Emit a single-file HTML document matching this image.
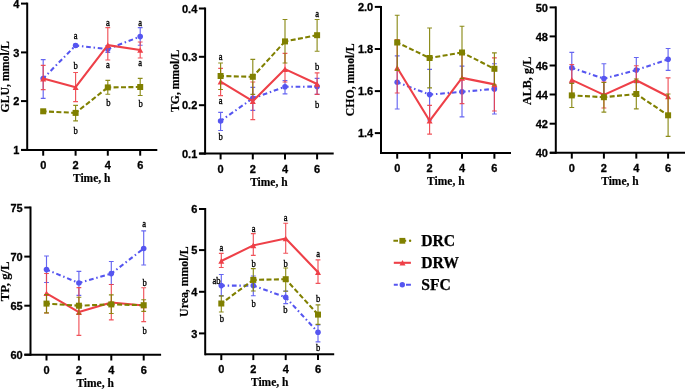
<!DOCTYPE html>
<html><head><meta charset="utf-8"><style>
html,body{margin:0;padding:0;background:#fff;}
body{width:685px;height:389px;overflow:hidden;}
svg{display:block;will-change:transform;}
.tk{font-family:"Liberation Sans",sans-serif;font-weight:bold;font-size:11px;stroke:#000;stroke-width:0.3px;}
.tt{font-family:"Liberation Serif",serif;font-weight:bold;font-size:11.5px;stroke:#000;stroke-width:0.2px;}
.yl{font-family:"Liberation Serif",serif;font-weight:bold;stroke:#000;stroke-width:0.2px;}
.lg{font-family:"Liberation Serif",serif;font-weight:bold;font-size:15.7px;stroke:#000;stroke-width:0.25px;}
</style></head><body>
<svg width="685" height="389" viewBox="0 0 685 389">
<rect width="685" height="389" fill="#fff"/>
<g id="pGLU"><path d="M43.2 59.6V98.3M40.8 59.6H45.6M40.8 98.3H45.6" stroke="#5555F0" stroke-width="1.15" fill="none" opacity="0.9"/>
<path d="M75.6 44.2V46.8M73.2 44.2H78M73.2 46.8H78" stroke="#5555F0" stroke-width="1.15" fill="none" opacity="0.9"/>
<path d="M107.8 45.5V52.3M105.4 45.5H110.2M105.4 52.3H110.2" stroke="#5555F0" stroke-width="1.15" fill="none" opacity="0.9"/>
<path d="M140.2 27.6V45.2M137.8 27.6H142.6M137.8 45.2H142.6" stroke="#5555F0" stroke-width="1.15" fill="none" opacity="0.9"/>
<path d="M43.2 78.5L75.6 45.5" stroke="#5555F0" stroke-width="2.1" fill="none" stroke-dasharray="4.7 2.75 1.5 2.75" stroke-dashoffset="1.1"/>
<path d="M75.6 45.5L107.8 49.1" stroke="#5555F0" stroke-width="2.1" fill="none" stroke-dasharray="4.7 2.75 1.5 2.75" stroke-dashoffset="1.1"/>
<path d="M107.8 49.1L140.2 36.6" stroke="#5555F0" stroke-width="2.1" fill="none" stroke-dasharray="4.7 2.75 1.5 2.75" stroke-dashoffset="1.1"/>
<circle cx="43.2" cy="78.5" r="2.8" fill="#5555F0"/>
<circle cx="75.6" cy="45.5" r="2.8" fill="#5555F0"/>
<circle cx="107.8" cy="49.1" r="2.8" fill="#5555F0"/>
<circle cx="140.2" cy="36.6" r="2.8" fill="#5555F0"/>
<path d="M43.2 65.3V89.6M40.8 65.3H45.6M40.8 89.6H45.6" stroke="#EE4048" stroke-width="1.15" fill="none" opacity="0.9"/>
<path d="M75.6 72.5V101.6M73.2 72.5H78M73.2 101.6H78" stroke="#EE4048" stroke-width="1.15" fill="none" opacity="0.9"/>
<path d="M107.8 27.6V60M105.4 27.6H110.2M105.4 60H110.2" stroke="#EE4048" stroke-width="1.15" fill="none" opacity="0.9"/>
<path d="M140.2 42V58M137.8 42H142.6M137.8 58H142.6" stroke="#EE4048" stroke-width="1.15" fill="none" opacity="0.9"/>
<path d="M43.2 78.6 L75.6 87.2 L107.8 45.1 L140.2 50" stroke="#EE4048" stroke-width="2.1" fill="none" stroke-linejoin="round"/>
<polygon points="43.2,75.8 46.2,81.4 40.2,81.4" fill="#EE4048"/>
<polygon points="75.6,84.4 78.6,90 72.6,90" fill="#EE4048"/>
<polygon points="107.8,42.3 110.8,47.9 104.8,47.9" fill="#EE4048"/>
<polygon points="140.2,47.2 143.2,52.8 137.2,52.8" fill="#EE4048"/>
<path d="M43.2 110V112.6M40.8 110H45.6M40.8 112.6H45.6" stroke="#808000" stroke-width="1.15" fill="none" opacity="0.9"/>
<path d="M75.6 105.3V120.9M73.2 105.3H78M73.2 120.9H78" stroke="#808000" stroke-width="1.15" fill="none" opacity="0.9"/>
<path d="M107.8 80.3V94.2M105.4 80.3H110.2M105.4 94.2H110.2" stroke="#808000" stroke-width="1.15" fill="none" opacity="0.9"/>
<path d="M140.2 78.4V95.5M137.8 78.4H142.6M137.8 95.5H142.6" stroke="#808000" stroke-width="1.15" fill="none" opacity="0.9"/>
<path d="M43.2 111.3L75.6 112.9" stroke="#808000" stroke-width="2.1" fill="none" stroke-dasharray="5 2.4" stroke-dashoffset="1.6"/>
<path d="M75.6 112.9L107.8 87.4" stroke="#808000" stroke-width="2.1" fill="none" stroke-dasharray="5 2.4" stroke-dashoffset="1.6"/>
<path d="M107.8 87.4L140.2 87" stroke="#808000" stroke-width="2.1" fill="none" stroke-dasharray="5 2.4" stroke-dashoffset="1.6"/>
<rect x="40.2" y="108.3" width="6" height="6" fill="#808000"/>
<rect x="72.6" y="109.9" width="6" height="6" fill="#808000"/>
<rect x="104.8" y="84.4" width="6" height="6" fill="#808000"/>
<rect x="137.2" y="84" width="6" height="6" fill="#808000"/>
<path d="M27.2 2.6V150.9" stroke="#000" stroke-width="2" fill="none"/>
<path d="M21.4 149.9H157.3" stroke="#000" stroke-width="2" fill="none"/>
<path d="M21 3.6H27.2" stroke="#000" stroke-width="2" fill="none"/>
<text x="19.4" y="7.74" text-anchor="end" class="tk">4</text>
<path d="M21 52.4H27.2" stroke="#000" stroke-width="2" fill="none"/>
<text x="19.4" y="56.54" text-anchor="end" class="tk">3</text>
<path d="M21 101.1H27.2" stroke="#000" stroke-width="2" fill="none"/>
<text x="19.4" y="105.24" text-anchor="end" class="tk">2</text>
<path d="M21 149.9H27.2" stroke="#000" stroke-width="2" fill="none"/>
<text x="19.4" y="154.04" text-anchor="end" class="tk">1</text>
<path d="M43.2 149.9V155.7" stroke="#000" stroke-width="2" fill="none"/>
<text x="43.2" y="168.8" text-anchor="middle" class="tk">0</text>
<path d="M75.6 149.9V155.7" stroke="#000" stroke-width="2" fill="none"/>
<text x="75.6" y="168.8" text-anchor="middle" class="tk">2</text>
<path d="M107.8 149.9V155.7" stroke="#000" stroke-width="2" fill="none"/>
<text x="107.8" y="168.8" text-anchor="middle" class="tk">4</text>
<path d="M140.2 149.9V155.7" stroke="#000" stroke-width="2" fill="none"/>
<text x="140.2" y="168.8" text-anchor="middle" class="tk">6</text>
<text transform="translate(91.7,181.8) scale(1,1.08)" text-anchor="middle" class="tt">Time, h</text>
<text transform="translate(8.8,76.8) rotate(-90)" text-anchor="middle" class="yl" font-size="11.75">GLU, mmol/L</text>
<text transform="translate(75.6,38.8) scale(0.95,1.18)" text-anchor="middle" font-family="'Liberation Serif', serif" font-size="9" stroke="#000" stroke-width="0.32">a</text>
<text transform="translate(75.6,69.3) scale(0.95,1.18)" text-anchor="middle" font-family="'Liberation Serif', serif" font-size="9" stroke="#000" stroke-width="0.32">b</text>
<text transform="translate(75.6,133.9) scale(0.95,1.18)" text-anchor="middle" font-family="'Liberation Serif', serif" font-size="9" stroke="#000" stroke-width="0.32">b</text>
<text transform="translate(107.8,25.6) scale(0.95,1.18)" text-anchor="middle" font-family="'Liberation Serif', serif" font-size="9" stroke="#000" stroke-width="0.32">a</text>
<text transform="translate(107.8,68.2) scale(0.95,1.18)" text-anchor="middle" font-family="'Liberation Serif', serif" font-size="9" stroke="#000" stroke-width="0.32">a</text>
<text transform="translate(108.4,105.6) scale(0.95,1.18)" text-anchor="middle" font-family="'Liberation Serif', serif" font-size="9" stroke="#000" stroke-width="0.32">b</text>
<text transform="translate(140.2,26.3) scale(0.95,1.18)" text-anchor="middle" font-family="'Liberation Serif', serif" font-size="9" stroke="#000" stroke-width="0.32">a</text>
<text transform="translate(140.2,66) scale(0.95,1.18)" text-anchor="middle" font-family="'Liberation Serif', serif" font-size="9" stroke="#000" stroke-width="0.32">a</text>
<text transform="translate(140.6,106.8) scale(0.95,1.18)" text-anchor="middle" font-family="'Liberation Serif', serif" font-size="9" stroke="#000" stroke-width="0.32">b</text></g>
<g id="pTG"><path d="M220.6 112.3V130.5M218.2 112.3H223M218.2 130.5H223" stroke="#5555F0" stroke-width="1.15" fill="none" opacity="0.9"/>
<path d="M252.8 87.4V110.4M250.4 87.4H255.2M250.4 110.4H255.2" stroke="#5555F0" stroke-width="1.15" fill="none" opacity="0.9"/>
<path d="M285 80.5V93.8M282.6 80.5H287.4M282.6 93.8H287.4" stroke="#5555F0" stroke-width="1.15" fill="none" opacity="0.9"/>
<path d="M317.1 78.4V94.4M314.7 78.4H319.5M314.7 94.4H319.5" stroke="#5555F0" stroke-width="1.15" fill="none" opacity="0.9"/>
<path d="M220.6 121L252.8 98.3" stroke="#5555F0" stroke-width="2.1" fill="none" stroke-dasharray="4.7 2.75 1.5 2.75" stroke-dashoffset="1.1"/>
<path d="M252.8 98.3L285 86.8" stroke="#5555F0" stroke-width="2.1" fill="none" stroke-dasharray="4.7 2.75 1.5 2.75" stroke-dashoffset="1.1"/>
<path d="M285 86.8L317.1 86.6" stroke="#5555F0" stroke-width="2.1" fill="none" stroke-dasharray="4.7 2.75 1.5 2.75" stroke-dashoffset="1.1"/>
<circle cx="220.6" cy="121" r="2.8" fill="#5555F0"/>
<circle cx="252.8" cy="98.3" r="2.8" fill="#5555F0"/>
<circle cx="285" cy="86.8" r="2.8" fill="#5555F0"/>
<circle cx="317.1" cy="86.6" r="2.8" fill="#5555F0"/>
<path d="M220.6 68.3V95.6M218.2 68.3H223M218.2 95.6H223" stroke="#EE4048" stroke-width="1.15" fill="none" opacity="0.9"/>
<path d="M252.8 82V119.6M250.4 82H255.2M250.4 119.6H255.2" stroke="#EE4048" stroke-width="1.15" fill="none" opacity="0.9"/>
<path d="M285 53.4V82M282.6 53.4H287.4M282.6 82H287.4" stroke="#EE4048" stroke-width="1.15" fill="none" opacity="0.9"/>
<path d="M317.1 72.8V94.4M314.7 72.8H319.5M314.7 94.4H319.5" stroke="#EE4048" stroke-width="1.15" fill="none" opacity="0.9"/>
<path d="M220.6 81.7 L252.8 101.2 L285 69.1 L317.1 84" stroke="#EE4048" stroke-width="2.1" fill="none" stroke-linejoin="round"/>
<polygon points="220.6,78.9 223.6,84.5 217.6,84.5" fill="#EE4048"/>
<polygon points="252.8,98.4 255.8,104 249.8,104" fill="#EE4048"/>
<polygon points="285,66.3 288,71.9 282,71.9" fill="#EE4048"/>
<polygon points="317.1,81.2 320.1,86.8 314.1,86.8" fill="#EE4048"/>
<path d="M220.6 63V89.5M218.2 63H223M218.2 89.5H223" stroke="#808000" stroke-width="1.15" fill="none" opacity="0.9"/>
<path d="M252.8 59.4V94.4M250.4 59.4H255.2M250.4 94.4H255.2" stroke="#808000" stroke-width="1.15" fill="none" opacity="0.9"/>
<path d="M285 19.5V63M282.6 19.5H287.4M282.6 63H287.4" stroke="#808000" stroke-width="1.15" fill="none" opacity="0.9"/>
<path d="M317.1 19.5V51.2M314.7 19.5H319.5M314.7 51.2H319.5" stroke="#808000" stroke-width="1.15" fill="none" opacity="0.9"/>
<path d="M220.6 76L252.8 76.8" stroke="#808000" stroke-width="2.1" fill="none" stroke-dasharray="5 2.4" stroke-dashoffset="1.6"/>
<path d="M252.8 76.8L285 41.4" stroke="#808000" stroke-width="2.1" fill="none" stroke-dasharray="5 2.4" stroke-dashoffset="1.6"/>
<path d="M285 41.4L317.1 35.2" stroke="#808000" stroke-width="2.1" fill="none" stroke-dasharray="5 2.4" stroke-dashoffset="1.6"/>
<rect x="217.6" y="73" width="6" height="6" fill="#808000"/>
<rect x="249.8" y="73.8" width="6" height="6" fill="#808000"/>
<rect x="282" y="38.4" width="6" height="6" fill="#808000"/>
<rect x="314.1" y="32.2" width="6" height="6" fill="#808000"/>
<path d="M205.1 7.5V154.6" stroke="#000" stroke-width="2" fill="none"/>
<path d="M199.3 153.6H333.7" stroke="#000" stroke-width="2" fill="none"/>
<path d="M198.9 8.5H205.1" stroke="#000" stroke-width="2" fill="none"/>
<text x="197.3" y="12.64" text-anchor="end" class="tk">0.4</text>
<path d="M198.9 56.8H205.1" stroke="#000" stroke-width="2" fill="none"/>
<text x="197.3" y="60.94" text-anchor="end" class="tk">0.3</text>
<path d="M198.9 105.2H205.1" stroke="#000" stroke-width="2" fill="none"/>
<text x="197.3" y="109.34" text-anchor="end" class="tk">0.2</text>
<path d="M198.9 153.6H205.1" stroke="#000" stroke-width="2" fill="none"/>
<text x="197.3" y="157.74" text-anchor="end" class="tk">0.1</text>
<path d="M220.6 153.6V159.4" stroke="#000" stroke-width="2" fill="none"/>
<text x="220.6" y="172.5" text-anchor="middle" class="tk">0</text>
<path d="M252.8 153.6V159.4" stroke="#000" stroke-width="2" fill="none"/>
<text x="252.8" y="172.5" text-anchor="middle" class="tk">2</text>
<path d="M285 153.6V159.4" stroke="#000" stroke-width="2" fill="none"/>
<text x="285" y="172.5" text-anchor="middle" class="tk">4</text>
<path d="M317.1 153.6V159.4" stroke="#000" stroke-width="2" fill="none"/>
<text x="317.1" y="172.5" text-anchor="middle" class="tk">6</text>
<text transform="translate(268.85,185.5) scale(1,1.08)" text-anchor="middle" class="tt">Time, h</text>
<text transform="translate(179,80.75) rotate(-90)" text-anchor="middle" class="yl" font-size="11.7">TG, mmol/L</text>
<text transform="translate(220.6,59.7) scale(0.95,1.18)" text-anchor="middle" font-family="'Liberation Serif', serif" font-size="9" stroke="#000" stroke-width="0.32">a</text>
<text transform="translate(220.6,103.6) scale(0.95,1.18)" text-anchor="middle" font-family="'Liberation Serif', serif" font-size="9" stroke="#000" stroke-width="0.32">a</text>
<text transform="translate(220.6,139.9) scale(0.95,1.18)" text-anchor="middle" font-family="'Liberation Serif', serif" font-size="9" stroke="#000" stroke-width="0.32">b</text>
<text transform="translate(317.1,16.6) scale(0.95,1.18)" text-anchor="middle" font-family="'Liberation Serif', serif" font-size="9" stroke="#000" stroke-width="0.32">a</text>
<text transform="translate(317.1,70) scale(0.95,1.18)" text-anchor="middle" font-family="'Liberation Serif', serif" font-size="9" stroke="#000" stroke-width="0.32">b</text>
<text transform="translate(317.1,107.6) scale(0.95,1.18)" text-anchor="middle" font-family="'Liberation Serif', serif" font-size="9" stroke="#000" stroke-width="0.32">b</text></g>
<g id="pCHO"><path d="M397.2 55.9V109M394.8 55.9H399.6M394.8 109H399.6" stroke="#5555F0" stroke-width="1.15" fill="none" opacity="0.9"/>
<path d="M429.6 69.3V120M427.2 69.3H432M427.2 120H432" stroke="#5555F0" stroke-width="1.15" fill="none" opacity="0.9"/>
<path d="M462 66.1V116.9M459.6 66.1H464.4M459.6 116.9H464.4" stroke="#5555F0" stroke-width="1.15" fill="none" opacity="0.9"/>
<path d="M494.4 63.7V114M492 63.7H496.8M492 114H496.8" stroke="#5555F0" stroke-width="1.15" fill="none" opacity="0.9"/>
<path d="M397.2 82.2L429.6 94.6" stroke="#5555F0" stroke-width="2.1" fill="none" stroke-dasharray="4.7 2.75 1.5 2.75" stroke-dashoffset="1.1"/>
<path d="M429.6 94.6L462 91.8" stroke="#5555F0" stroke-width="2.1" fill="none" stroke-dasharray="4.7 2.75 1.5 2.75" stroke-dashoffset="1.1"/>
<path d="M462 91.8L494.4 88.9" stroke="#5555F0" stroke-width="2.1" fill="none" stroke-dasharray="4.7 2.75 1.5 2.75" stroke-dashoffset="1.1"/>
<circle cx="397.2" cy="82.2" r="2.8" fill="#5555F0"/>
<circle cx="429.6" cy="94.6" r="2.8" fill="#5555F0"/>
<circle cx="462" cy="91.8" r="2.8" fill="#5555F0"/>
<circle cx="494.4" cy="88.9" r="2.8" fill="#5555F0"/>
<path d="M397.2 39.5V93M394.8 39.5H399.6M394.8 93H399.6" stroke="#EE4048" stroke-width="1.15" fill="none" opacity="0.9"/>
<path d="M429.6 105.3V134.1M427.2 105.3H432M427.2 134.1H432" stroke="#EE4048" stroke-width="1.15" fill="none" opacity="0.9"/>
<path d="M462 52V103.6M459.6 52H464.4M459.6 103.6H464.4" stroke="#EE4048" stroke-width="1.15" fill="none" opacity="0.9"/>
<path d="M494.4 57.8V111M492 57.8H496.8M492 111H496.8" stroke="#EE4048" stroke-width="1.15" fill="none" opacity="0.9"/>
<path d="M397.2 67.8 L429.6 120.8 L462 77.9 L494.4 84.4" stroke="#EE4048" stroke-width="2.1" fill="none" stroke-linejoin="round"/>
<polygon points="397.2,65 400.2,70.6 394.2,70.6" fill="#EE4048"/>
<polygon points="429.6,118 432.6,123.6 426.6,123.6" fill="#EE4048"/>
<polygon points="462,75.1 465,80.7 459,80.7" fill="#EE4048"/>
<polygon points="494.4,81.6 497.4,87.2 491.4,87.2" fill="#EE4048"/>
<path d="M397.2 15.2V70.3M394.8 15.2H399.6M394.8 70.3H399.6" stroke="#808000" stroke-width="1.15" fill="none" opacity="0.9"/>
<path d="M429.6 28V87.8M427.2 28H432M427.2 87.8H432" stroke="#808000" stroke-width="1.15" fill="none" opacity="0.9"/>
<path d="M462 26.2V78.5M459.6 26.2H464.4M459.6 78.5H464.4" stroke="#808000" stroke-width="1.15" fill="none" opacity="0.9"/>
<path d="M494.4 52.8V85M492 52.8H496.8M492 85H496.8" stroke="#808000" stroke-width="1.15" fill="none" opacity="0.9"/>
<path d="M397.2 42.5L429.6 58" stroke="#808000" stroke-width="2.1" fill="none" stroke-dasharray="5 2.4" stroke-dashoffset="1.6"/>
<path d="M429.6 58L462 52.5" stroke="#808000" stroke-width="2.1" fill="none" stroke-dasharray="5 2.4" stroke-dashoffset="1.6"/>
<path d="M462 52.5L494.4 68.8" stroke="#808000" stroke-width="2.1" fill="none" stroke-dasharray="5 2.4" stroke-dashoffset="1.6"/>
<rect x="394.2" y="39.5" width="6" height="6" fill="#808000"/>
<rect x="426.6" y="55" width="6" height="6" fill="#808000"/>
<rect x="459" y="49.5" width="6" height="6" fill="#808000"/>
<rect x="491.4" y="65.8" width="6" height="6" fill="#808000"/>
<path d="M381 5.9V153.9" stroke="#000" stroke-width="2" fill="none"/>
<path d="M381 152.9H511" stroke="#000" stroke-width="2" fill="none"/>
<path d="M374.8 6.9H381" stroke="#000" stroke-width="2" fill="none"/>
<text x="373.2" y="11.04" text-anchor="end" class="tk">2.0</text>
<path d="M374.8 49H381" stroke="#000" stroke-width="2" fill="none"/>
<text x="373.2" y="53.14" text-anchor="end" class="tk">1.8</text>
<path d="M374.8 91.1H381" stroke="#000" stroke-width="2" fill="none"/>
<text x="373.2" y="95.24" text-anchor="end" class="tk">1.6</text>
<path d="M374.8 133.1H381" stroke="#000" stroke-width="2" fill="none"/>
<text x="373.2" y="137.24" text-anchor="end" class="tk">1.4</text>
<path d="M397.2 152.9V158.7" stroke="#000" stroke-width="2" fill="none"/>
<text x="397.2" y="171.8" text-anchor="middle" class="tk">0</text>
<path d="M429.6 152.9V158.7" stroke="#000" stroke-width="2" fill="none"/>
<text x="429.6" y="171.8" text-anchor="middle" class="tk">2</text>
<path d="M462 152.9V158.7" stroke="#000" stroke-width="2" fill="none"/>
<text x="462" y="171.8" text-anchor="middle" class="tk">4</text>
<path d="M494.4 152.9V158.7" stroke="#000" stroke-width="2" fill="none"/>
<text x="494.4" y="171.8" text-anchor="middle" class="tk">6</text>
<text transform="translate(445.8,184.8) scale(1,1.08)" text-anchor="middle" class="tt">Time, h</text>
<text transform="translate(354.2,79.85) rotate(-90)" text-anchor="middle" class="yl" font-size="11.8">CHO, mmol/L</text></g>
<g id="pALB"><path d="M571.8 52.4V83M569.4 52.4H574.2M569.4 83H574.2" stroke="#5555F0" stroke-width="1.15" fill="none" opacity="0.9"/>
<path d="M603.9 63.7V93.5M601.5 63.7H606.3M601.5 93.5H606.3" stroke="#5555F0" stroke-width="1.15" fill="none" opacity="0.9"/>
<path d="M636.3 57.5V82.7M633.9 57.5H638.7M633.9 82.7H638.7" stroke="#5555F0" stroke-width="1.15" fill="none" opacity="0.9"/>
<path d="M668.1 48.5V70.3M665.7 48.5H670.5M665.7 70.3H670.5" stroke="#5555F0" stroke-width="1.15" fill="none" opacity="0.9"/>
<path d="M571.8 67.8L603.9 78.6" stroke="#5555F0" stroke-width="2.1" fill="none" stroke-dasharray="4.7 2.75 1.5 2.75" stroke-dashoffset="1.1"/>
<path d="M603.9 78.6L636.3 70.1" stroke="#5555F0" stroke-width="2.1" fill="none" stroke-dasharray="4.7 2.75 1.5 2.75" stroke-dashoffset="1.1"/>
<path d="M636.3 70.1L668.1 59.3" stroke="#5555F0" stroke-width="2.1" fill="none" stroke-dasharray="4.7 2.75 1.5 2.75" stroke-dashoffset="1.1"/>
<circle cx="571.8" cy="67.8" r="2.8" fill="#5555F0"/>
<circle cx="603.9" cy="78.6" r="2.8" fill="#5555F0"/>
<circle cx="636.3" cy="70.1" r="2.8" fill="#5555F0"/>
<circle cx="668.1" cy="59.3" r="2.8" fill="#5555F0"/>
<path d="M571.8 64.5V95M569.4 64.5H574.2M569.4 95H574.2" stroke="#EE4048" stroke-width="1.15" fill="none" opacity="0.9"/>
<path d="M603.9 82V108M601.5 82H606.3M601.5 108H606.3" stroke="#EE4048" stroke-width="1.15" fill="none" opacity="0.9"/>
<path d="M636.3 65.7V95M633.9 65.7H638.7M633.9 95H638.7" stroke="#EE4048" stroke-width="1.15" fill="none" opacity="0.9"/>
<path d="M668.1 77.8V115M665.7 77.8H670.5M665.7 115H670.5" stroke="#EE4048" stroke-width="1.15" fill="none" opacity="0.9"/>
<path d="M571.8 79.9 L603.9 94.9 L636.3 80.3 L668.1 96.5" stroke="#EE4048" stroke-width="2.1" fill="none" stroke-linejoin="round"/>
<polygon points="571.8,77.1 574.8,82.7 568.8,82.7" fill="#EE4048"/>
<polygon points="603.9,92.1 606.9,97.7 600.9,97.7" fill="#EE4048"/>
<polygon points="636.3,77.5 639.3,83.1 633.3,83.1" fill="#EE4048"/>
<polygon points="668.1,93.7 671.1,99.3 665.1,99.3" fill="#EE4048"/>
<path d="M571.8 83.3V107.5M569.4 83.3H574.2M569.4 107.5H574.2" stroke="#808000" stroke-width="1.15" fill="none" opacity="0.9"/>
<path d="M603.9 82.5V112.1M601.5 82.5H606.3M601.5 112.1H606.3" stroke="#808000" stroke-width="1.15" fill="none" opacity="0.9"/>
<path d="M636.3 79V108.9M633.9 79H638.7M633.9 108.9H638.7" stroke="#808000" stroke-width="1.15" fill="none" opacity="0.9"/>
<path d="M668.1 94V136.4M665.7 94H670.5M665.7 136.4H670.5" stroke="#808000" stroke-width="1.15" fill="none" opacity="0.9"/>
<path d="M571.8 95.4L603.9 97.2" stroke="#808000" stroke-width="2.1" fill="none" stroke-dasharray="5 2.4" stroke-dashoffset="1.6"/>
<path d="M603.9 97.2L636.3 94" stroke="#808000" stroke-width="2.1" fill="none" stroke-dasharray="5 2.4" stroke-dashoffset="1.6"/>
<path d="M636.3 94L668.1 115.3" stroke="#808000" stroke-width="2.1" fill="none" stroke-dasharray="5 2.4" stroke-dashoffset="1.6"/>
<rect x="568.8" y="92.4" width="6" height="6" fill="#808000"/>
<rect x="600.9" y="94.2" width="6" height="6" fill="#808000"/>
<rect x="633.3" y="91" width="6" height="6" fill="#808000"/>
<rect x="665.1" y="112.3" width="6" height="6" fill="#808000"/>
<path d="M555.8 6.4V153.8" stroke="#000" stroke-width="2" fill="none"/>
<path d="M550 152.8H686" stroke="#000" stroke-width="2" fill="none"/>
<path d="M549.6 7.4H555.8" stroke="#000" stroke-width="2" fill="none"/>
<text x="548" y="11.54" text-anchor="end" class="tk">50</text>
<path d="M549.6 36.4H555.8" stroke="#000" stroke-width="2" fill="none"/>
<text x="548" y="40.54" text-anchor="end" class="tk">48</text>
<path d="M549.6 65.5H555.8" stroke="#000" stroke-width="2" fill="none"/>
<text x="548" y="69.64" text-anchor="end" class="tk">46</text>
<path d="M549.6 94.5H555.8" stroke="#000" stroke-width="2" fill="none"/>
<text x="548" y="98.64" text-anchor="end" class="tk">44</text>
<path d="M549.6 123.7H555.8" stroke="#000" stroke-width="2" fill="none"/>
<text x="548" y="127.84" text-anchor="end" class="tk">42</text>
<path d="M549.6 152.8H555.8" stroke="#000" stroke-width="2" fill="none"/>
<text x="548" y="156.94" text-anchor="end" class="tk">40</text>
<path d="M571.8 152.8V158.6" stroke="#000" stroke-width="2" fill="none"/>
<text x="571.8" y="171.7" text-anchor="middle" class="tk">0</text>
<path d="M603.9 152.8V158.6" stroke="#000" stroke-width="2" fill="none"/>
<text x="603.9" y="171.7" text-anchor="middle" class="tk">2</text>
<path d="M636.3 152.8V158.6" stroke="#000" stroke-width="2" fill="none"/>
<text x="636.3" y="171.7" text-anchor="middle" class="tk">4</text>
<path d="M668.1 152.8V158.6" stroke="#000" stroke-width="2" fill="none"/>
<text x="668.1" y="171.7" text-anchor="middle" class="tk">6</text>
<text transform="translate(619.95,184.7) scale(1,1.08)" text-anchor="middle" class="tt">Time, h</text>
<text transform="translate(531.2,80.85) rotate(-90)" text-anchor="middle" class="yl" font-size="12.1">ALB, g/L</text></g>
<g id="pTP"><path d="M46.5 256V282.5M44.1 256H48.9M44.1 282.5H48.9" stroke="#5555F0" stroke-width="1.15" fill="none" opacity="0.9"/>
<path d="M78.9 271.4V295.4M76.5 271.4H81.3M76.5 295.4H81.3" stroke="#5555F0" stroke-width="1.15" fill="none" opacity="0.9"/>
<path d="M111.3 261.5V284.5M108.9 261.5H113.7M108.9 284.5H113.7" stroke="#5555F0" stroke-width="1.15" fill="none" opacity="0.9"/>
<path d="M143.7 230.8V265M141.3 230.8H146.1M141.3 265H146.1" stroke="#5555F0" stroke-width="1.15" fill="none" opacity="0.9"/>
<path d="M46.5 269.6L78.9 283" stroke="#5555F0" stroke-width="2.1" fill="none" stroke-dasharray="4.7 2.75 1.5 2.75" stroke-dashoffset="1.1"/>
<path d="M78.9 283L111.3 273.6" stroke="#5555F0" stroke-width="2.1" fill="none" stroke-dasharray="4.7 2.75 1.5 2.75" stroke-dashoffset="1.1"/>
<path d="M111.3 273.6L143.7 248.5" stroke="#5555F0" stroke-width="2.1" fill="none" stroke-dasharray="4.7 2.75 1.5 2.75" stroke-dashoffset="1.1"/>
<circle cx="46.5" cy="269.6" r="2.8" fill="#5555F0"/>
<circle cx="78.9" cy="283" r="2.8" fill="#5555F0"/>
<circle cx="111.3" cy="273.6" r="2.8" fill="#5555F0"/>
<circle cx="143.7" cy="248.5" r="2.8" fill="#5555F0"/>
<path d="M46.5 273.5V313M44.1 273.5H48.9M44.1 313H48.9" stroke="#EE4048" stroke-width="1.15" fill="none" opacity="0.9"/>
<path d="M78.9 287.6V335.3M76.5 287.6H81.3M76.5 335.3H81.3" stroke="#EE4048" stroke-width="1.15" fill="none" opacity="0.9"/>
<path d="M111.3 284.5V319.8M108.9 284.5H113.7M108.9 319.8H113.7" stroke="#EE4048" stroke-width="1.15" fill="none" opacity="0.9"/>
<path d="M143.7 287.7V321.6M141.3 287.7H146.1M141.3 321.6H146.1" stroke="#EE4048" stroke-width="1.15" fill="none" opacity="0.9"/>
<path d="M46.5 293.3 L78.9 312.1 L111.3 302.5 L143.7 305.5" stroke="#EE4048" stroke-width="2.1" fill="none" stroke-linejoin="round"/>
<polygon points="46.5,290.5 49.5,296.1 43.5,296.1" fill="#EE4048"/>
<polygon points="78.9,309.3 81.9,314.9 75.9,314.9" fill="#EE4048"/>
<polygon points="111.3,299.7 114.3,305.3 108.3,305.3" fill="#EE4048"/>
<polygon points="143.7,302.7 146.7,308.3 140.7,308.3" fill="#EE4048"/>
<path d="M46.5 294.5V312.9M44.1 294.5H48.9M44.1 312.9H48.9" stroke="#808000" stroke-width="1.15" fill="none" opacity="0.9"/>
<path d="M78.9 297.2V314M76.5 297.2H81.3M76.5 314H81.3" stroke="#808000" stroke-width="1.15" fill="none" opacity="0.9"/>
<path d="M111.3 294.9V313.5M108.9 294.9H113.7M108.9 313.5H113.7" stroke="#808000" stroke-width="1.15" fill="none" opacity="0.9"/>
<path d="M143.7 299.7V311.3M141.3 299.7H146.1M141.3 311.3H146.1" stroke="#808000" stroke-width="1.15" fill="none" opacity="0.9"/>
<path d="M46.5 303.6L78.9 305.7" stroke="#808000" stroke-width="2.1" fill="none" stroke-dasharray="5 2.4" stroke-dashoffset="1.6"/>
<path d="M78.9 305.7L111.3 304.4" stroke="#808000" stroke-width="2.1" fill="none" stroke-dasharray="5 2.4" stroke-dashoffset="1.6"/>
<path d="M111.3 304.4L143.7 305.2" stroke="#808000" stroke-width="2.1" fill="none" stroke-dasharray="5 2.4" stroke-dashoffset="1.6"/>
<rect x="43.5" y="300.6" width="6" height="6" fill="#808000"/>
<rect x="75.9" y="302.7" width="6" height="6" fill="#808000"/>
<rect x="108.3" y="301.4" width="6" height="6" fill="#808000"/>
<rect x="140.7" y="302.2" width="6" height="6" fill="#808000"/>
<path d="M30.5 206.5V355.7" stroke="#000" stroke-width="2" fill="none"/>
<path d="M24.4 354.7H161.1" stroke="#000" stroke-width="2" fill="none"/>
<path d="M24.3 207.5H30.5" stroke="#000" stroke-width="2" fill="none"/>
<text x="22.7" y="211.64" text-anchor="end" class="tk">75</text>
<path d="M24.3 256.6H30.5" stroke="#000" stroke-width="2" fill="none"/>
<text x="22.7" y="260.74" text-anchor="end" class="tk">70</text>
<path d="M24.3 305.7H30.5" stroke="#000" stroke-width="2" fill="none"/>
<text x="22.7" y="309.84" text-anchor="end" class="tk">65</text>
<path d="M24.3 354.7H30.5" stroke="#000" stroke-width="2" fill="none"/>
<text x="22.7" y="358.84" text-anchor="end" class="tk">60</text>
<path d="M46.5 354.7V360.5" stroke="#000" stroke-width="2" fill="none"/>
<text x="46.5" y="373.6" text-anchor="middle" class="tk">0</text>
<path d="M78.9 354.7V360.5" stroke="#000" stroke-width="2" fill="none"/>
<text x="78.9" y="373.6" text-anchor="middle" class="tk">2</text>
<path d="M111.3 354.7V360.5" stroke="#000" stroke-width="2" fill="none"/>
<text x="111.3" y="373.6" text-anchor="middle" class="tk">4</text>
<path d="M143.7 354.7V360.5" stroke="#000" stroke-width="2" fill="none"/>
<text x="143.7" y="373.6" text-anchor="middle" class="tk">6</text>
<text transform="translate(95.1,386.6) scale(1,1.08)" text-anchor="middle" class="tt">Time, h</text>
<text transform="translate(8.5,281.4) rotate(-90)" text-anchor="middle" class="yl" font-size="12.7">TP, g/L</text>
<text transform="translate(144.2,226.5) scale(0.95,1.18)" text-anchor="middle" font-family="'Liberation Serif', serif" font-size="9" stroke="#000" stroke-width="0.32">a</text>
<text transform="translate(144.6,285.6) scale(0.95,1.18)" text-anchor="middle" font-family="'Liberation Serif', serif" font-size="9" stroke="#000" stroke-width="0.32">b</text>
<text transform="translate(144.6,333.6) scale(0.95,1.18)" text-anchor="middle" font-family="'Liberation Serif', serif" font-size="9" stroke="#000" stroke-width="0.32">b</text></g>
<g id="pUrea"><path d="M221.3 274.5V295.9M218.9 274.5H223.7M218.9 295.9H223.7" stroke="#5555F0" stroke-width="1.15" fill="none" opacity="0.9"/>
<path d="M253.3 276V295.7M250.9 276H255.7M250.9 295.7H255.7" stroke="#5555F0" stroke-width="1.15" fill="none" opacity="0.9"/>
<path d="M285.7 291V303.6M283.3 291H288.1M283.3 303.6H288.1" stroke="#5555F0" stroke-width="1.15" fill="none" opacity="0.9"/>
<path d="M318 324.8V341.9M315.6 324.8H320.4M315.6 341.9H320.4" stroke="#5555F0" stroke-width="1.15" fill="none" opacity="0.9"/>
<path d="M221.3 285.6L253.3 285.6" stroke="#5555F0" stroke-width="2.1" fill="none" stroke-dasharray="4.7 2.75 1.5 2.75" stroke-dashoffset="1.1"/>
<path d="M253.3 285.6L285.7 297.3" stroke="#5555F0" stroke-width="2.1" fill="none" stroke-dasharray="4.7 2.75 1.5 2.75" stroke-dashoffset="1.1"/>
<path d="M285.7 297.3L318 332.3" stroke="#5555F0" stroke-width="2.1" fill="none" stroke-dasharray="4.7 2.75 1.5 2.75" stroke-dashoffset="1.1"/>
<circle cx="221.3" cy="285.6" r="2.8" fill="#5555F0"/>
<circle cx="253.3" cy="285.6" r="2.8" fill="#5555F0"/>
<circle cx="285.7" cy="297.3" r="2.8" fill="#5555F0"/>
<circle cx="318" cy="332.3" r="2.8" fill="#5555F0"/>
<path d="M221.3 253.4V267.5M218.9 253.4H223.7M218.9 267.5H223.7" stroke="#EE4048" stroke-width="1.15" fill="none" opacity="0.9"/>
<path d="M253.3 233.6V255.3M250.9 233.6H255.7M250.9 255.3H255.7" stroke="#EE4048" stroke-width="1.15" fill="none" opacity="0.9"/>
<path d="M285.7 223.2V253.2M283.3 223.2H288.1M283.3 253.2H288.1" stroke="#EE4048" stroke-width="1.15" fill="none" opacity="0.9"/>
<path d="M318 259.9V283.4M315.6 259.9H320.4M315.6 283.4H320.4" stroke="#EE4048" stroke-width="1.15" fill="none" opacity="0.9"/>
<path d="M221.3 261 L253.3 245.4 L285.7 238.5 L318 272.2" stroke="#EE4048" stroke-width="2.1" fill="none" stroke-linejoin="round"/>
<polygon points="221.3,258.2 224.3,263.8 218.3,263.8" fill="#EE4048"/>
<polygon points="253.3,242.6 256.3,248.2 250.3,248.2" fill="#EE4048"/>
<polygon points="285.7,235.7 288.7,241.3 282.7,241.3" fill="#EE4048"/>
<polygon points="318,269.4 321,275 315,275" fill="#EE4048"/>
<path d="M221.3 295.9V312M218.9 295.9H223.7M218.9 312H223.7" stroke="#808000" stroke-width="1.15" fill="none" opacity="0.9"/>
<path d="M253.3 268.6V291M250.9 268.6H255.7M250.9 291H255.7" stroke="#808000" stroke-width="1.15" fill="none" opacity="0.9"/>
<path d="M285.7 268V291.2M283.3 268H288.1M283.3 291.2H288.1" stroke="#808000" stroke-width="1.15" fill="none" opacity="0.9"/>
<path d="M318 304.9V324.4M315.6 304.9H320.4M315.6 324.4H320.4" stroke="#808000" stroke-width="1.15" fill="none" opacity="0.9"/>
<path d="M221.3 303.5L253.3 279.9" stroke="#808000" stroke-width="2.1" fill="none" stroke-dasharray="5 2.4" stroke-dashoffset="1.6"/>
<path d="M253.3 279.9L285.7 279.2" stroke="#808000" stroke-width="2.1" fill="none" stroke-dasharray="5 2.4" stroke-dashoffset="1.6"/>
<path d="M285.7 279.2L318 314.6" stroke="#808000" stroke-width="2.1" fill="none" stroke-dasharray="5 2.4" stroke-dashoffset="1.6"/>
<rect x="218.3" y="300.5" width="6" height="6" fill="#808000"/>
<rect x="250.3" y="276.9" width="6" height="6" fill="#808000"/>
<rect x="282.7" y="276.2" width="6" height="6" fill="#808000"/>
<rect x="315" y="311.6" width="6" height="6" fill="#808000"/>
<path d="M205.2 208V355.3" stroke="#000" stroke-width="2" fill="none"/>
<path d="M205.2 354.3H334.2" stroke="#000" stroke-width="2" fill="none"/>
<path d="M199 209H205.2" stroke="#000" stroke-width="2" fill="none"/>
<text x="197.4" y="213.14" text-anchor="end" class="tk">6</text>
<path d="M199 250.1H205.2" stroke="#000" stroke-width="2" fill="none"/>
<text x="197.4" y="254.24" text-anchor="end" class="tk">5</text>
<path d="M199 291.8H205.2" stroke="#000" stroke-width="2" fill="none"/>
<text x="197.4" y="295.94" text-anchor="end" class="tk">4</text>
<path d="M199 333.4H205.2" stroke="#000" stroke-width="2" fill="none"/>
<text x="197.4" y="337.54" text-anchor="end" class="tk">3</text>
<path d="M221.3 354.3V360.1" stroke="#000" stroke-width="2" fill="none"/>
<text x="221.3" y="373.2" text-anchor="middle" class="tk">0</text>
<path d="M253.3 354.3V360.1" stroke="#000" stroke-width="2" fill="none"/>
<text x="253.3" y="373.2" text-anchor="middle" class="tk">2</text>
<path d="M285.7 354.3V360.1" stroke="#000" stroke-width="2" fill="none"/>
<text x="285.7" y="373.2" text-anchor="middle" class="tk">4</text>
<path d="M318 354.3V360.1" stroke="#000" stroke-width="2" fill="none"/>
<text x="318" y="373.2" text-anchor="middle" class="tk">6</text>
<text transform="translate(269.65,386.2) scale(1,1.08)" text-anchor="middle" class="tt">Time, h</text>
<text transform="translate(188,281.6) rotate(-90)" text-anchor="middle" class="yl" font-size="11.8">Urea, mmol/L</text>
<text transform="translate(221.4,250.7) scale(0.95,1.18)" text-anchor="middle" font-family="'Liberation Serif', serif" font-size="9" stroke="#000" stroke-width="0.32">a</text>
<text transform="translate(220.6,284.1) scale(0.95,1.18)" text-anchor="end" font-family="'Liberation Serif', serif" font-size="9" stroke="#000" stroke-width="0.32">ab</text>
<text transform="translate(222,322.3) scale(0.95,1.18)" text-anchor="middle" font-family="'Liberation Serif', serif" font-size="9" stroke="#000" stroke-width="0.32">b</text>
<text transform="translate(253.6,232.3) scale(0.95,1.18)" text-anchor="middle" font-family="'Liberation Serif', serif" font-size="9" stroke="#000" stroke-width="0.32">a</text>
<text transform="translate(253.6,267.1) scale(0.95,1.18)" text-anchor="middle" font-family="'Liberation Serif', serif" font-size="9" stroke="#000" stroke-width="0.32">b</text>
<text transform="translate(253.6,306.7) scale(0.95,1.18)" text-anchor="middle" font-family="'Liberation Serif', serif" font-size="9" stroke="#000" stroke-width="0.32">b</text>
<text transform="translate(285.7,221.4) scale(0.95,1.18)" text-anchor="middle" font-family="'Liberation Serif', serif" font-size="9" stroke="#000" stroke-width="0.32">a</text>
<text transform="translate(285.7,266.5) scale(0.95,1.18)" text-anchor="middle" font-family="'Liberation Serif', serif" font-size="9" stroke="#000" stroke-width="0.32">b</text>
<text transform="translate(285.4,313.3) scale(0.95,1.18)" text-anchor="middle" font-family="'Liberation Serif', serif" font-size="9" stroke="#000" stroke-width="0.32">b</text>
<text transform="translate(318.1,257.1) scale(0.95,1.18)" text-anchor="middle" font-family="'Liberation Serif', serif" font-size="9" stroke="#000" stroke-width="0.32">a</text>
<text transform="translate(318.1,302.1) scale(0.95,1.18)" text-anchor="middle" font-family="'Liberation Serif', serif" font-size="9" stroke="#000" stroke-width="0.32">b</text>
<text transform="translate(318.1,351) scale(0.95,1.18)" text-anchor="middle" font-family="'Liberation Serif', serif" font-size="9" stroke="#000" stroke-width="0.32">b</text></g>
<g id="legend"><path d="M393.4 240.8H398M404 240.8H406.2" stroke="#808000" stroke-width="2.1" fill="none"/>
<circle cx="410.1" cy="240.8" r="1.2" fill="#808000"/>
<rect x="399.4" y="237.9" width="5.9" height="5.8" fill="#808000"/>
<path d="M393.8 262.8H410.9" stroke="#EE4048" stroke-width="2.1" fill="none"/>
<polygon points="402.5,260 405.5,265.6 399.5,265.6" fill="#EE4048"/>
<path d="M393.8 284.8H397.8M406 284.8H410.9" stroke="#5555F0" stroke-width="2.1" fill="none"/>
<circle cx="402.3" cy="284.8" r="2.7" fill="#5555F0"/>
<text x="421.2" y="245.6" class="lg">DRC</text>
<text x="421.2" y="267.6" class="lg">DRW</text>
<text x="421.2" y="289.6" class="lg">SFC</text></g>
</svg>
</body></html>
